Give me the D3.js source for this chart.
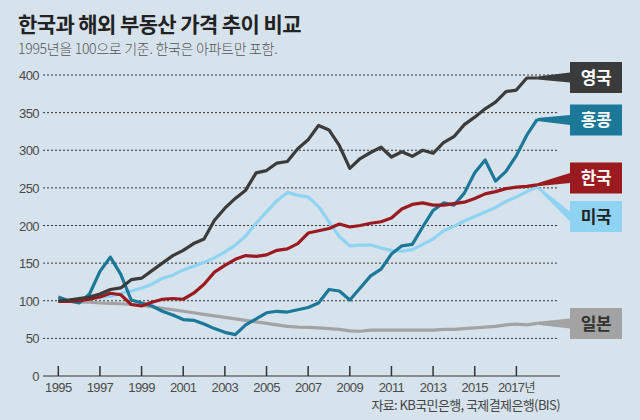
<!DOCTYPE html>
<html>
<head>
<meta charset="utf-8">
<script src="https://cdn.jsdelivr.net/npm/d3@7"></script>
<style>
  body { margin: 0; background: #d7e3ec; }
  svg { display: block; }
  .grid line { stroke: #333; stroke-dasharray: 2,2; stroke-width: 1; }
  .tick-label { font-family: "Liberation Sans Narrow", "Liberation Sans", sans-serif; font-size: 13px; fill: #4a4a4a; letter-spacing: -0.6px; }
  .kr { font-family: "Noto Sans CJK KR", sans-serif; }
</style>
</head>
<body>
<div id="chart"></div>
<script>
// half-year steps, 1995 to 2018
const years = d3.range(0, 47).map(i => 1995 + i * 0.5);

const uk = [100,101,103,105,109,115,117,128,130,140,150,160,167,176,182,207,223,236,247,270,
            273,283,285,302,314,333,327,306,276,289,297,304,291,298,292,300,296,310,318,334,
            344,355,364,378,380,396,396];
const hk = [105,100,97,109,139,158,135,101,97,93,86,81,75,74,69,63,58,55,68,76,
            84,86,85,88,91,97,115,113,101,117,133,142,162,173,175,198,220,230,227,243,
            270,287,259,272,293,320,341];
const korea = [99,99,100,102,105,110,108,95,93,98,102,103,102,110,122,138,147,155,160,159,
               161,167,169,176,190,193,196,202,198,200,203,205,210,222,228,230,227,227,229,231,
               236,242,245,249,251,252,254];
const us = [100,101,102,103,104,106,110,113,117,122,130,134,141,146,151,157,165,174,186,203,
            218,233,244,240,238,225,205,185,173,174,174,170,167,166,168,175,182,193,199,206,
            212,218,224,232,238,245,251];
const japan = [100,99,98.5,98,97,96.5,96,95,94,92,90,88,86,84,82,80,78,76,74,72,
               70,68,66,65,64.5,64,63,62,60,59.5,61,61,61,61,61,61,61,62,62,63,
               64,65,66,68,69,68,70];

const yTicks = [50, 100, 150, 200, 250, 300, 350, 400];
const xTicks = d3.range(1995, 2018, 2);

// drawing order: bottom first
const series = [
  {name: '일본', values: japan, color: '#a3a3a3', text: '#333'},
  {name: '미국', values: us,    color: '#8fd3f2', text: '#222'},
  {name: '홍콩', values: hk,    color: '#1c7899', text: '#fff'},
  {name: '한국', values: korea, color: '#9a1a1f', text: '#fff'},
  {name: '영국', values: uk,    color: '#3b3b3b', text: '#fff'}
];
// label box centres (px)
const boxY = {'영국': 77.5, '홍콩': 120, '한국': 178, '미국': 216.5, '일본': 323.5};

const width = 640, height = 420;
const svg = d3.select('#chart').append('svg')
    .attr('width', width)
    .attr('height', height);

svg.append('rect').attr('width', width).attr('height', height).attr('fill', '#d7e3ec');

const x = d3.scaleLinear([1995, 2018], [58.3, 537.2]);
const y = d3.scaleLinear([0, 400], [376, 75]);

// title
svg.append('text').classed('kr', true)
    .attr('x', 18).attr('y', 32)
    .attr('font-size', 21).attr('font-weight', 700)
    .attr('letter-spacing', '-0.6px')
    .attr('fill', '#222')
    .text('한국과 해외 부동산 가격 추이 비교');
svg.append('text').classed('kr', true)
    .attr('x', 18).attr('y', 54)
    .attr('font-size', 14).attr('font-weight', 300)
    .attr('letter-spacing', '-0.3px')
    .attr('fill', '#555')
    .text('1995년을 100으로 기준. 한국은 아파트만 포함.');

// gridlines
const grid = svg.append('g').classed('grid', true);
grid.selectAll('line')
    .data(yTicks)
    .join('line')
    .attr('x1', 43).attr('x2', 557)
    .attr('y1', d => y(d)).attr('y2', d => y(d));

svg.append('g').selectAll('text')
    .data([0, ...yTicks])
    .join('text')
    .classed('tick-label', true)
    .attr('x', 39).attr('y', d => y(d) + 5)
    .attr('text-anchor', 'end')
    .text(d => d);

// x axis
svg.append('line')
    .attr('x1', 43).attr('x2', 560)
    .attr('y1', y(0)).attr('y2', y(0))
    .attr('stroke', '#333').attr('stroke-width', 1);
svg.append('g').selectAll('line')
    .data(xTicks)
    .join('line')
    .attr('x1', d => x(d)).attr('x2', d => x(d))
    .attr('y1', y(0) - 10).attr('y2', y(0))
    .attr('stroke', '#333').attr('stroke-width', 1.5);
const xLabels = svg.append('g').selectAll('text')
    .data(xTicks)
    .join('text')
    .classed('tick-label', true)
    .attr('x', d => x(d)).attr('y', y(0) + 16)
    .attr('text-anchor', 'middle')
    .text(d => d);
// last label carries the unit
xLabels.filter(d => d === 2017)
    .append('tspan').classed('kr', true)
    .attr('font-size', 12)
    .text('년');

// lines
const line = d3.line()
    .x((d, i) => x(years[i]))
    .y(d => y(d));

const lines = svg.append('g');
series.forEach(s => {
    lines.append('path')
        .attr('d', line(s.values))
        .attr('fill', 'none')
        .attr('stroke', s.color)
        .attr('stroke-width', 3.2)
        .attr('stroke-linejoin', 'round');
});

// labels with wedge connectors
const boxX = 570, boxW = 52, boxH = 31;
const labels = svg.append('g');
series.forEach(s => {
    const ex = x(years[years.length - 1]);
    const ey = y(s.values[s.values.length - 1]);
    const by = boxY[s.name];
    labels.append('path')
        .attr('d', `M${ex},${ey - 1.5}L${boxX},${by - 5}L${boxX},${by + 5}L${ex},${ey + 1.5}Z`)
        .attr('fill', s.color);
    labels.append('rect')
        .attr('x', boxX).attr('y', by - boxH / 2)
        .attr('width', boxW).attr('height', boxH)
        .attr('fill', s.color);
    labels.append('text').classed('kr', true)
        .attr('x', boxX + boxW / 2).attr('y', by + 6)
        .attr('text-anchor', 'middle')
        .attr('font-size', 17).attr('font-weight', 700)
        .attr('letter-spacing', '-0.5px')
        .attr('fill', s.text)
        .text(s.name);
});

// source
svg.append('text').classed('kr', true)
    .attr('x', 560).attr('y', 410)
    .attr('text-anchor', 'end')
    .attr('font-size', 13).attr('letter-spacing', '-0.6px')
    .attr('fill', '#444')
    .text('자료: KB국민은행, 국제결제은행(BIS)');
</script>
</body>
</html>
